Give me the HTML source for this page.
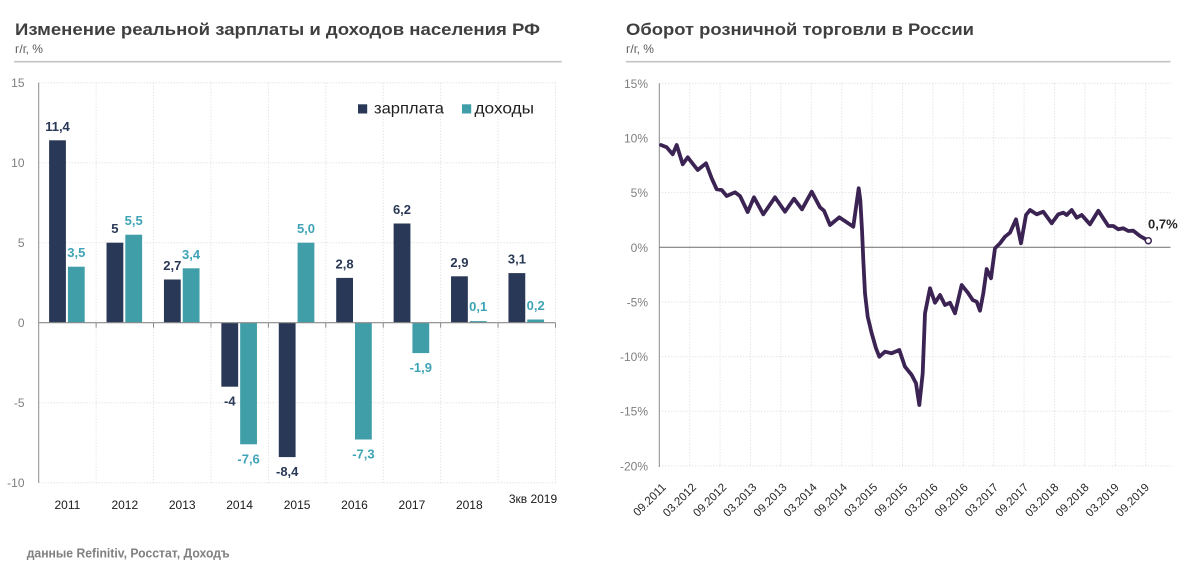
<!DOCTYPE html>
<html>
<head>
<meta charset="utf-8">
<style>
  html,body{margin:0;padding:0;background:#ffffff;}
  svg{display:block;}
  text{font-family:"Liberation Sans","DejaVu Sans",sans-serif;}
</style>
</head>
<body>
<svg width="1192" height="577" viewBox="0 0 1192 577" xmlns="http://www.w3.org/2000/svg">
  <rect x="0" y="0" width="1192" height="577" fill="#ffffff"/>

  <!-- ============ LEFT CHART ============ -->
  <text x="15" y="35" font-size="17" font-weight="bold" fill="#3f3f3f" textLength="525" lengthAdjust="spacingAndGlyphs">Изменение реальной зарплаты и доходов населения РФ</text>
  <text x="15" y="53" font-size="12" fill="#595959">г/г, %</text>
  <line x1="14" y1="61.7" x2="561.7" y2="61.7" stroke="#c3c3c3" stroke-width="1.6"/>

  <!-- gridlines -->
  <g stroke="#d9d9d9" stroke-width="1" stroke-dasharray="1 2" fill="none">
    <line x1="38.7" y1="82.7" x2="555.5" y2="82.7"/>
    <line x1="38.7" y1="162.7" x2="555.5" y2="162.7"/>
    <line x1="38.7" y1="242.7" x2="555.5" y2="242.7"/>
    <line x1="38.7" y1="402.7" x2="555.5" y2="402.7"/>
    <line x1="38.7" y1="482.7" x2="555.5" y2="482.7"/>
    <line x1="96.12" y1="82.7" x2="96.12" y2="482.7"/>
    <line x1="153.54" y1="82.7" x2="153.54" y2="482.7"/>
    <line x1="210.96" y1="82.7" x2="210.96" y2="482.7"/>
    <line x1="268.38" y1="82.7" x2="268.38" y2="482.7"/>
    <line x1="325.8" y1="82.7" x2="325.8" y2="482.7"/>
    <line x1="383.22" y1="82.7" x2="383.22" y2="482.7"/>
    <line x1="440.64" y1="82.7" x2="440.64" y2="482.7"/>
    <line x1="498.06" y1="82.7" x2="498.06" y2="482.7"/>
    <line x1="555.48" y1="82.7" x2="555.48" y2="482.7"/>
  </g>

  <!-- bars zarplata -->
  <g fill="#293856">
    <rect x="49.10" y="140.3" width="16.8" height="182.4"/>
    <rect x="106.52" y="242.7" width="16.8" height="80"/>
    <rect x="163.94" y="279.5" width="16.8" height="43.2"/>
    <rect x="221.36" y="322.7" width="16.8" height="64"/>
    <rect x="278.78" y="322.7" width="16.8" height="134.4"/>
    <rect x="336.20" y="277.9" width="16.8" height="44.8"/>
    <rect x="393.62" y="223.5" width="16.8" height="99.2"/>
    <rect x="451.04" y="276.3" width="16.8" height="46.4"/>
    <rect x="508.46" y="273.1" width="16.8" height="49.6"/>
  </g>
  <!-- bars dohody -->
  <g fill="#409ea9">
    <rect x="67.90" y="266.7" width="16.8" height="56"/>
    <rect x="125.32" y="234.7" width="16.8" height="88"/>
    <rect x="182.74" y="268.3" width="16.8" height="54.4"/>
    <rect x="240.16" y="322.7" width="16.8" height="121.6"/>
    <rect x="297.58" y="242.7" width="16.8" height="80"/>
    <rect x="355.00" y="322.7" width="16.8" height="116.8"/>
    <rect x="412.42" y="322.7" width="16.8" height="30.4"/>
    <rect x="469.84" y="321.1" width="16.8" height="1.6"/>
    <rect x="527.26" y="319.5" width="16.8" height="3.2"/>
  </g>

  <!-- axes -->
  <line x1="38.7" y1="82.7" x2="38.7" y2="482.7" stroke="#8a8a8a" stroke-width="1"/>
  <line x1="38.7" y1="322.7" x2="555.5" y2="322.7" stroke="#8a8a8a" stroke-width="1.2"/>
  <g stroke="#8a8a8a" stroke-width="1">
    <line x1="96.12" y1="322.7" x2="96.12" y2="327.7"/>
    <line x1="153.54" y1="322.7" x2="153.54" y2="327.7"/>
    <line x1="210.96" y1="322.7" x2="210.96" y2="327.7"/>
    <line x1="268.38" y1="322.7" x2="268.38" y2="327.7"/>
    <line x1="325.8" y1="322.7" x2="325.8" y2="327.7"/>
    <line x1="383.22" y1="322.7" x2="383.22" y2="327.7"/>
    <line x1="440.64" y1="322.7" x2="440.64" y2="327.7"/>
    <line x1="498.06" y1="322.7" x2="498.06" y2="327.7"/>
    <line x1="555.48" y1="322.7" x2="555.48" y2="327.7"/>
  </g>

  <!-- y labels -->
  <g font-size="12" fill="#7f7f7f" text-anchor="end">
    <text x="24.5" y="87">15</text>
    <text x="24.5" y="167">10</text>
    <text x="24.5" y="247">5</text>
    <text x="24.5" y="327">0</text>
    <text x="24.5" y="407">-5</text>
    <text x="24.5" y="487">-10</text>
  </g>

  <!-- x labels -->
  <g font-size="12" fill="#1a1a1a" text-anchor="middle">
    <text x="67.4" y="509">2011</text>
    <text x="124.8" y="509">2012</text>
    <text x="182.2" y="509">2013</text>
    <text x="239.6" y="509">2014</text>
    <text x="297.1" y="509">2015</text>
    <text x="354.5" y="509">2016</text>
    <text x="411.9" y="509">2017</text>
    <text x="469.3" y="509">2018</text>
    <text x="533" y="503">3кв 2019</text>
  </g>

  <!-- data labels zarplata -->
  <g font-size="13" font-weight="bold" fill="#293856" text-anchor="middle">
    <text x="57.5" y="130.8">11,4</text>
    <text x="114.9" y="233.2">5</text>
    <text x="172.3" y="270">2,7</text>
    <text x="229.8" y="405.7">-4</text>
    <text x="287.2" y="476.1">-8,4</text>
    <text x="344.6" y="268.4">2,8</text>
    <text x="402.0" y="214">6,2</text>
    <text x="459.4" y="266.8">2,9</text>
    <text x="516.9" y="263.6">3,1</text>
  </g>
  <!-- data labels dohody -->
  <g font-size="13" font-weight="bold" fill="#3fa3b6" text-anchor="middle">
    <text x="76.3" y="257.2">3,5</text>
    <text x="133.7" y="225.2">5,5</text>
    <text x="191.1" y="258.8">3,4</text>
    <text x="248.6" y="463.3">-7,6</text>
    <text x="306.0" y="233.2">5,0</text>
    <text x="363.4" y="458.5">-7,3</text>
    <text x="420.8" y="372.1">-1,9</text>
    <text x="478.2" y="311.2">0,1</text>
    <text x="535.7" y="309.8">0,2</text>
  </g>

  <!-- legend -->
  <rect x="358" y="104.3" width="9.2" height="9.2" fill="#293856"/>
  <text x="374" y="113.5" font-size="16" fill="#1f1f1f" textLength="70" lengthAdjust="spacingAndGlyphs">зарплата</text>
  <rect x="462" y="104.3" width="9.2" height="9.2" fill="#409ea9"/>
  <text x="474.5" y="113.5" font-size="16" fill="#1f1f1f" textLength="59.5" lengthAdjust="spacingAndGlyphs">доходы</text>

  <!-- footer -->
  <text x="26.7" y="557.3" font-size="13" font-weight="bold" fill="#808080" textLength="203" lengthAdjust="spacingAndGlyphs">данные Refinitiv, Росстат, Доходъ</text>

  <!-- ============ RIGHT CHART ============ -->
  <text x="626" y="35" font-size="17" font-weight="bold" fill="#3f3f3f" textLength="348" lengthAdjust="spacingAndGlyphs">Оборот розничной торговли в России</text>
  <text x="626" y="53" font-size="12" fill="#595959">г/г, %</text>
  <line x1="626" y1="61.7" x2="1170.5" y2="61.7" stroke="#c3c3c3" stroke-width="1.6"/>

  <g stroke="#d9d9d9" stroke-width="1" stroke-dasharray="1 2" fill="none">
    <line x1="659.3" y1="83.35" x2="1170.5" y2="83.35"/>
    <line x1="659.3" y1="138.0" x2="1170.5" y2="138.0"/>
    <line x1="659.3" y1="192.65" x2="1170.5" y2="192.65"/>
    <line x1="659.3" y1="301.95" x2="1170.5" y2="301.95"/>
    <line x1="659.3" y1="356.6" x2="1170.5" y2="356.6"/>
    <line x1="659.3" y1="411.25" x2="1170.5" y2="411.25"/>
    <line x1="659.3" y1="465.9" x2="1170.5" y2="465.9"/>
    <line x1="689.7" y1="83.35" x2="689.7" y2="465.9"/>
    <line x1="720.1" y1="83.35" x2="720.1" y2="465.9"/>
    <line x1="750.5" y1="83.35" x2="750.5" y2="465.9"/>
    <line x1="780.9" y1="83.35" x2="780.9" y2="465.9"/>
    <line x1="811.3" y1="83.35" x2="811.3" y2="465.9"/>
    <line x1="841.7" y1="83.35" x2="841.7" y2="465.9"/>
    <line x1="872.1" y1="83.35" x2="872.1" y2="465.9"/>
    <line x1="902.5" y1="83.35" x2="902.5" y2="465.9"/>
    <line x1="932.9" y1="83.35" x2="932.9" y2="465.9"/>
    <line x1="963.3" y1="83.35" x2="963.3" y2="465.9"/>
    <line x1="993.7" y1="83.35" x2="993.7" y2="465.9"/>
    <line x1="1024.1" y1="83.35" x2="1024.1" y2="465.9"/>
    <line x1="1054.5" y1="83.35" x2="1054.5" y2="465.9"/>
    <line x1="1084.9" y1="83.35" x2="1084.9" y2="465.9"/>
    <line x1="1115.3" y1="83.35" x2="1115.3" y2="465.9"/>
    <line x1="1145.7" y1="83.35" x2="1145.7" y2="465.9"/>
  </g>

  <line x1="659.3" y1="83.35" x2="659.3" y2="467" stroke="#8a8a8a" stroke-width="1"/>
  <line x1="659.3" y1="247.3" x2="1170.5" y2="247.3" stroke="#7f7f7f" stroke-width="1.2"/>

  <g font-size="12" fill="#7f7f7f" text-anchor="end">
    <text x="648" y="87.8">15%</text>
    <text x="648" y="142.5">10%</text>
    <text x="648" y="197.1">5%</text>
    <text x="648" y="251.8">0%</text>
    <text x="648" y="306.4">-5%</text>
    <text x="648" y="361.1">-10%</text>
    <text x="648" y="415.7">-15%</text>
    <text x="648" y="470.4">-20%</text>
  </g>

  <g font-size="11.5" fill="#262626" text-anchor="end">
    <text transform="translate(666.7,488) rotate(-45)">09.2011</text>
    <text transform="translate(696.9,488) rotate(-45)">03.2012</text>
    <text transform="translate(727.1,488) rotate(-45)">09.2012</text>
    <text transform="translate(757.3,488) rotate(-45)">03.2013</text>
    <text transform="translate(787.5,488) rotate(-45)">09.2013</text>
    <text transform="translate(817.7,488) rotate(-45)">03.2014</text>
    <text transform="translate(847.9,488) rotate(-45)">09.2014</text>
    <text transform="translate(878.1,488) rotate(-45)">03.2015</text>
    <text transform="translate(908.3,488) rotate(-45)">09.2015</text>
    <text transform="translate(938.5,488) rotate(-45)">03.2016</text>
    <text transform="translate(968.7,488) rotate(-45)">09.2016</text>
    <text transform="translate(998.9,488) rotate(-45)">03.2017</text>
    <text transform="translate(1029.1,488) rotate(-45)">09.2017</text>
    <text transform="translate(1059.3,488) rotate(-45)">03.2018</text>
    <text transform="translate(1089.5,488) rotate(-45)">09.2018</text>
    <text transform="translate(1119.7,488) rotate(-45)">03.2019</text>
    <text transform="translate(1149.9,488) rotate(-45)">09.2019</text>
  </g>

  <polyline fill="none" stroke="#3b2453" stroke-width="3.8" stroke-linejoin="round" stroke-linecap="round"
    points="661.0,145.0 666.7,147.3 672.7,154.3 676.7,145.0 682.7,164.3 687.7,157.3 697.7,170.0 706.0,163.3 711.7,178.3 716.7,189.3 721.7,190.0 726.7,196.0 735.0,192.3 740.0,196.0 747.7,212.0 754.0,197.3 763.3,214.3 775.0,197.3 785.0,211.7 794.0,198.7 802.0,209.3 811.7,191.7 820.0,207.3 824.0,210.7 830.0,225.0 839.3,217.3 853.3,226.7 858.7,188.3 860.3,200.0 862.0,230.0 863.3,260.0 865.0,293.3 867.7,316.7 871.7,333.3 876.0,348.3 879.3,356.7 885.0,351.7 891.7,353.3 899.3,350.0 905.0,366.7 911.7,375.0 916.0,383.3 919.3,405.0 922.7,373.3 925.0,313.3 930.0,288.3 935.0,302.7 940.0,295.0 945.0,305.0 950.0,302.7 955.0,313.3 961.7,285.0 968.3,293.3 972.7,300.0 976.7,301.7 980.0,310.7 983.3,293.3 986.7,269.0 991.0,278.3 995.0,248.3 1000.0,243.3 1005.0,236.7 1010.0,232.7 1016.0,219.3 1021.0,243.3 1026.0,215.0 1030.0,210.0 1036.7,214.3 1043.3,211.7 1051.7,223.3 1058.3,214.3 1063.3,212.7 1066.7,215.0 1071.7,210.0 1076.7,217.7 1081.7,215.0 1090.0,224.3 1098.3,210.7 1108.3,226.0 1113.3,226.0 1118.3,229.3 1123.3,228.3 1128.3,231.0 1133.3,230.7 1140.0,236.0 1148.3,240.7"/>
  <circle cx="1148.3" cy="240.7" r="3" fill="#ffffff" stroke="#3b2453" stroke-width="1.5"/>
  <text x="1148" y="228.5" font-size="13" font-weight="bold" fill="#262626">0,7%</text>
</svg>
</body>
</html>
